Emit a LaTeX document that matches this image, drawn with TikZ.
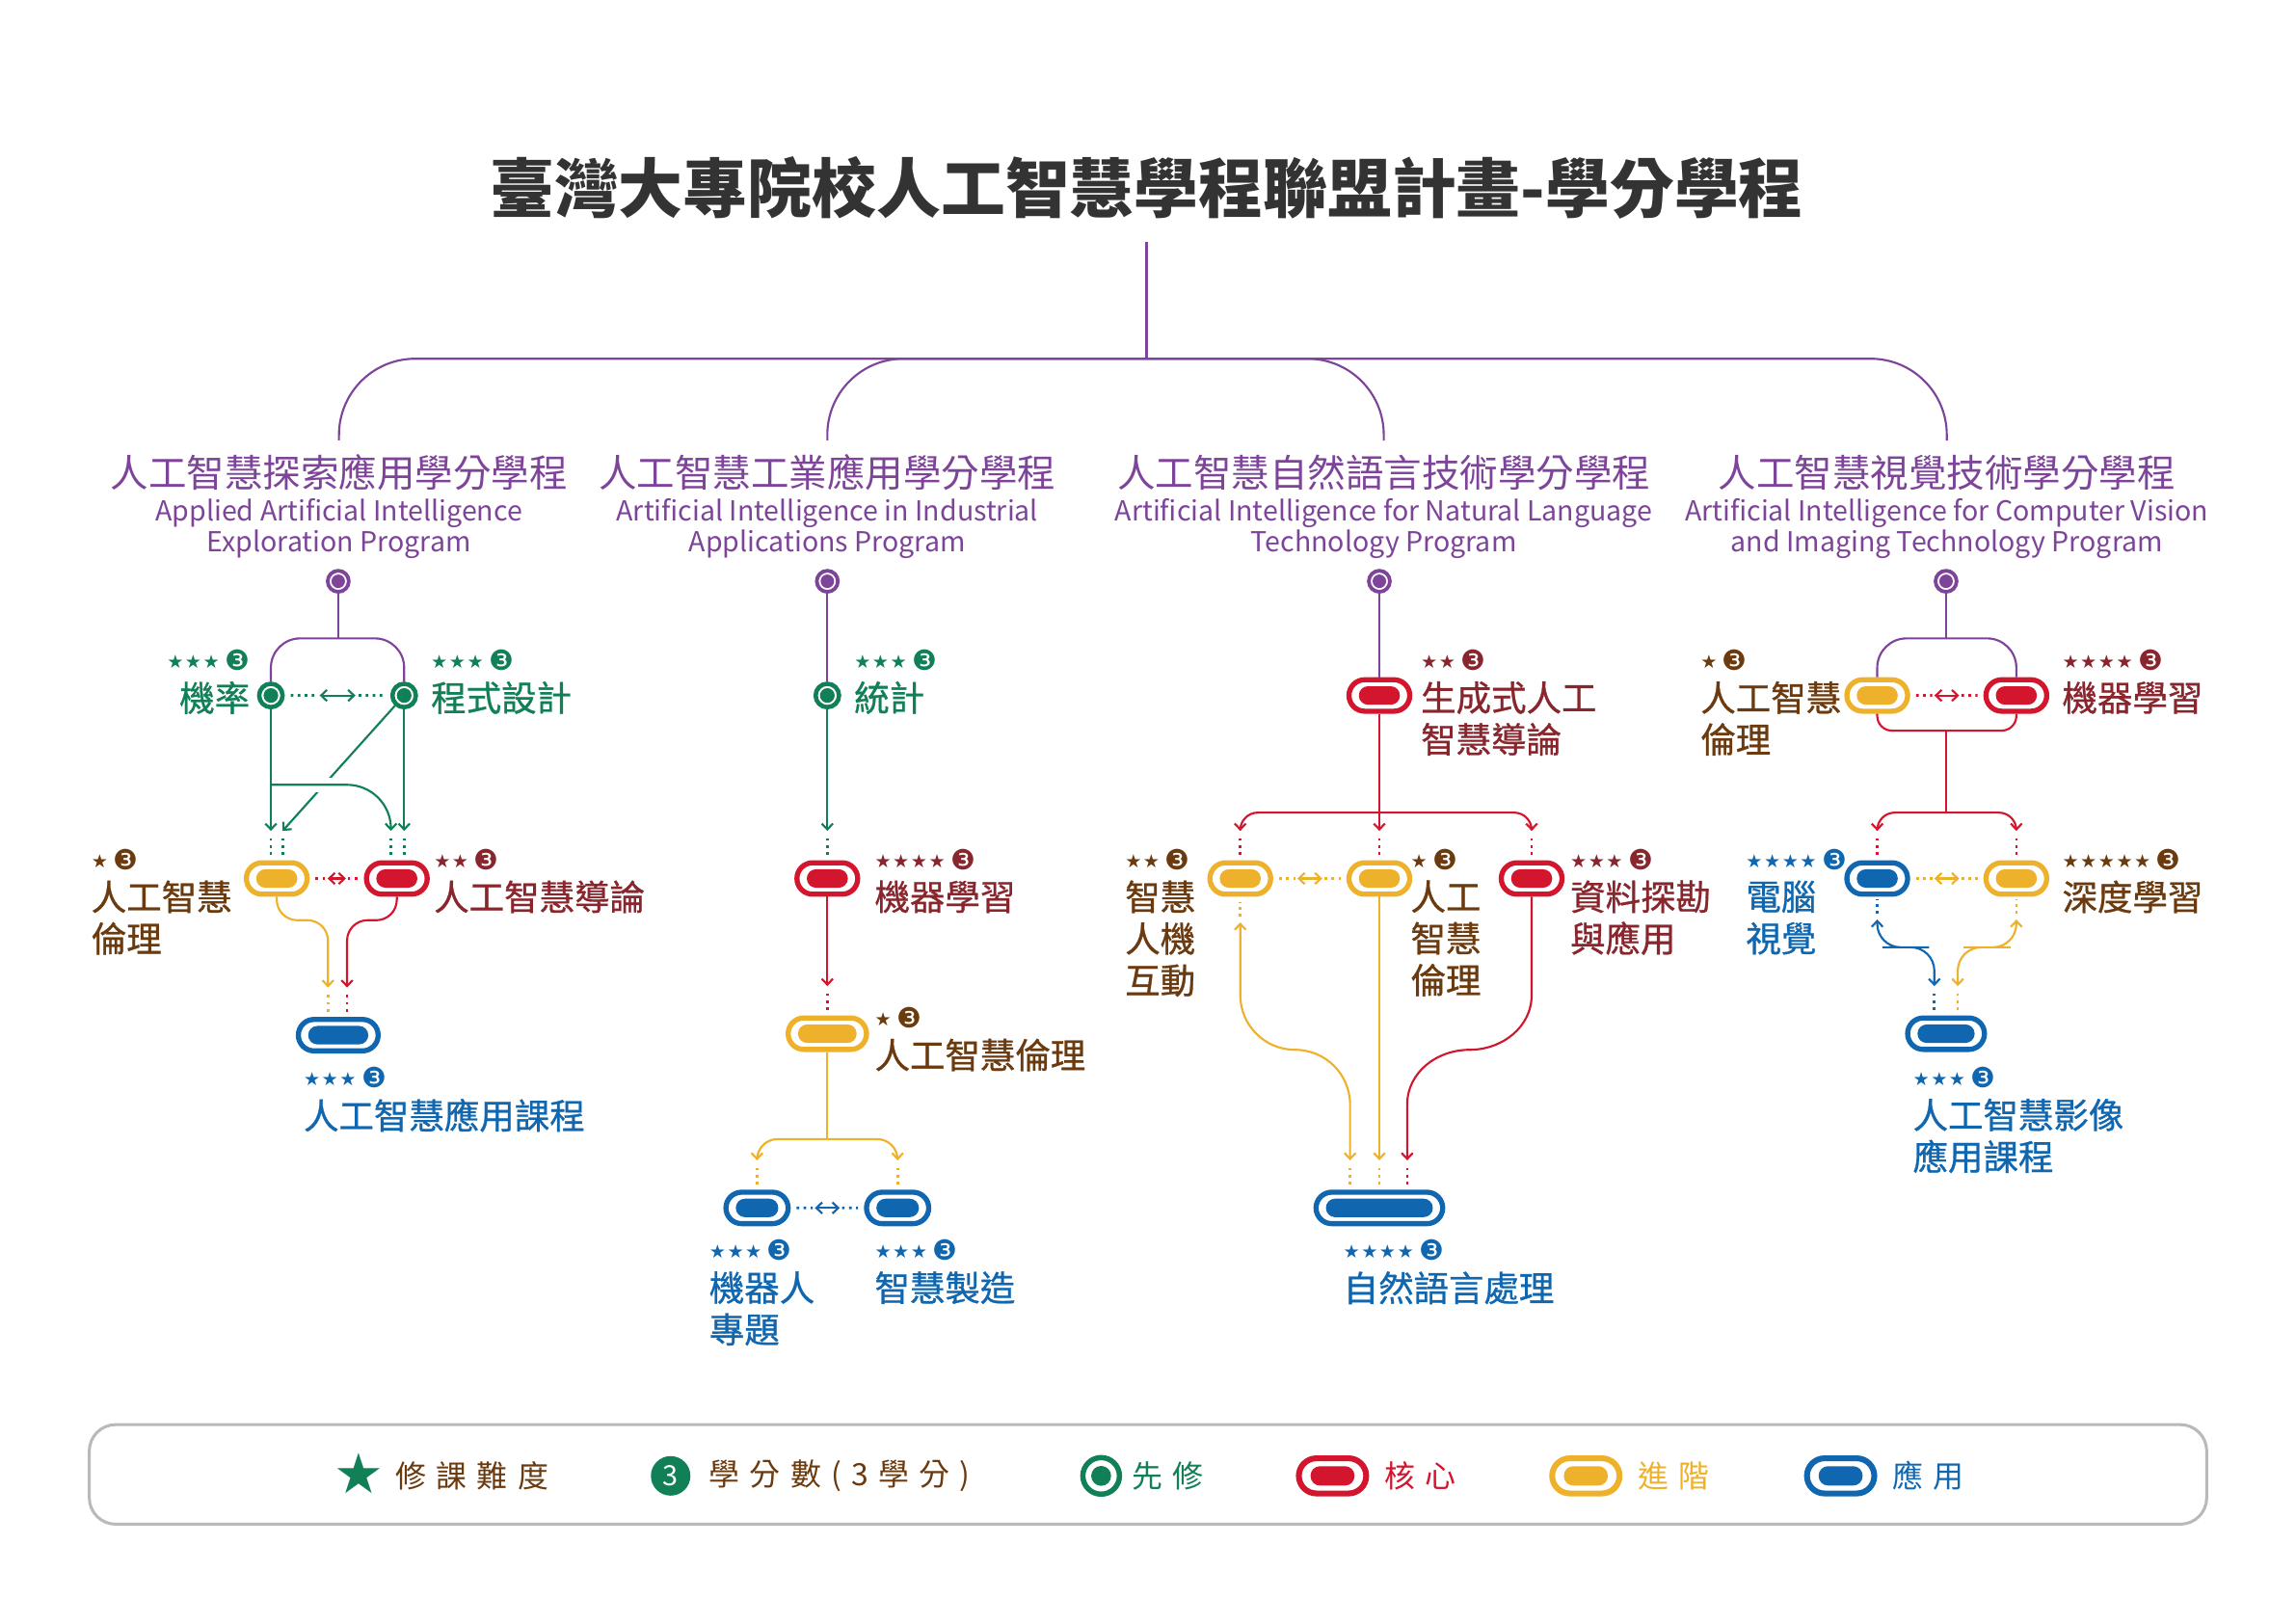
\documentclass[tikz,border=0pt]{standalone}
\usepackage{fontspec}
\setmainfont{Noto Sans CJK TC}
\newfontfamily\lblf{Noto Sans CJK TC}[FakeBold=0.8]
\newfontfamily\symf{DejaVu Sans}
\usetikzlibrary{arrows.meta,calc}
\definecolor{cpur}{RGB}{125,68,153}
\definecolor{cgrn}{RGB}{17,128,86}
\definecolor{cred}{RGB}{211,22,46}
\definecolor{cdred}{RGB}{137,37,45}
\definecolor{cyel}{RGB}{238,177,44}
\definecolor{cbrn}{RGB}{107,58,14}
\definecolor{cblu}{RGB}{16,103,176}
\definecolor{ctitle}{RGB}{51,51,51}
\definecolor{cbox}{RGB}{185,185,185}
\newcommand\rate[1]{\raisebox{0.7pt}{\symf\fontsize{6.3}{6.3}\selectfont\ifcase#1\or★\or★\kern.5pt★\or★\kern.5pt★\kern.5pt★\or★\kern.5pt★\kern.5pt★\kern.5pt★\or★\kern.5pt★\kern.5pt★\kern.5pt★\kern.5pt★\fi}\hspace{1.8pt}{\symf\fontsize{9.5}{9.5}\selectfont❸}}
\newcommand\crs[6]{%
  \node[lbl,text=#4,anchor=north west] (#1) at (#2,#3-11) {#6};
  \node[text=#4,inner sep=0pt,anchor=west] (#1r) at (#2,#3-25) {\rate{#5}};}
\newcommand\crsR[6]{%
  \node[lbl,text=#4,anchor=north east,align=right] (#1) at (#2,#3-11) {#6};
  \node[text=#4,inner sep=0pt,anchor=east] (#1r) at (#2,#3-25) {\rate{#5}};}
\newcommand\hdbl[3]{%
  \draw[dotline,#3] ([xshift=2pt]#1.east) -- ($(#1.east)!.3!(#2.west)$);
  \draw[conn,#3,darr] ($(#1.east)!.33!(#2.west)$) -- ($(#1.east)!.67!(#2.west)$);
  \draw[dotline,#3] ($(#1.east)!.7!(#2.west)$) -- ([xshift=-2pt]#2.west);}
\newcommand\dkd[2]{\draw[dotline,#2] ([yshift=-2.5pt]#1) -- ([yshift=-8.5pt]#1);}
\newcommand\dku[2]{\draw[dotline,#2] ([yshift=2pt]#1) -- ([yshift=7pt]#1);}
\tikzset{
  conn/.style={line width=0.7pt},
  arr/.style={-{Straight Barb[length=2pt,width=3.8pt]}},
  darr/.style={{Straight Barb[length=2pt,width=3.8pt]}-{Straight Barb[length=2pt,width=3.8pt]}},
  dotline/.style={line width=0.9pt, dash pattern=on 0.9pt off 1.5pt},
  pill/.style={draw=#1, line width=1.75pt, fill=white, rounded corners=5.375pt,
    minimum height=10.75pt, minimum width=20.75pt, inner sep=0pt,
    path picture={\fill[#1,rounded corners=3.1pt]
      ([shift={(3.375pt,2.225pt)}]path picture bounding box.south west) rectangle
      ([shift={(-3.375pt,-2.225pt)}]path picture bounding box.north east);}},
  lpill/.style={draw=#1, line width=2pt, fill=white, rounded corners=6pt,
    minimum height=12pt, minimum width=23pt, inner sep=0pt,
    path picture={\fill[#1,rounded corners=3.2pt]
      ([shift={(4pt,2.7pt)}]path picture bounding box.south west) rectangle
      ([shift={(-4pt,-2.7pt)}]path picture bounding box.north east);}},
  tgt/.style={circle, draw=#1, line width=1.5pt, fill=white, minimum size=8pt, inner sep=0pt,
    path picture={\fill[#1] (path picture bounding box.center) circle (2.5pt);}},
  tgtP/.style={circle, draw=cpur, line width=1.25pt, fill=white, minimum size=7.2pt, inner sep=0pt,
    path picture={\fill[cpur] (path picture bounding box.center) circle (2.3pt);}},
  lgtgt/.style={circle, draw=cgrn, line width=1.8pt, fill=white, minimum size=12.5pt, inner sep=0pt,
    path picture={\fill[cgrn] (path picture bounding box.center) circle (3.4pt);}},
  lbl/.style={font=\lblf\fontsize{12}{14.25}\selectfont, inner sep=0pt, align=left},
  ptitle/.style={text=cpur, font=\fontsize{13}{15}\selectfont, inner sep=0pt, outer sep=5pt},
  pengl/.style={text=cpur, font=\fontsize{9.4}{10.5}\selectfont, inner sep=0pt, align=center, anchor=north},
  ltxt/.style={anchor=west, inner sep=0pt, font=\fontsize{10.5}{11}\selectfont\addfontfeature{LetterSpace=32}},
}
\begin{document}
\begin{tikzpicture}[x=0.5pt,y=-0.5pt]
\fill[white] (0,0) rectangle (1568,1109);

% ---------- title and program heads ----------
\node[text=ctitle, font=\fontsize{22}{24}\selectfont\bfseries, inner sep=0pt, outer sep=8pt] (title) at (783,128) {臺灣大專院校人工智慧學程聯盟計畫-學分學程};
\node[ptitle] (pt1) at (231.5,323) {人工智慧探索應用學分學程};
\node[ptitle] (pt2) at (565,323) {人工智慧工業應用學分學程};
\node[ptitle] (pt3) at (945,323) {人工智慧自然語言技術學分學程};
\node[ptitle] (pt4) at (1329.5,323) {人工智慧視覺技術學分學程};
\node[pengl] (pe1) at (231.5,340) {Applied Artificial Intelligence\\Exploration Program};
\node[pengl] (pe2) at (565,340) {Artificial Intelligence in Industrial\\Applications Program};
\node[pengl] (pe3) at (945,340) {Artificial Intelligence for Natural Language\\Technology Program};
\node[pengl] (pe4) at (1329.5,340) {Artificial Intelligence for Computer Vision\\and Imaging Technology Program};
\coordinate (hub) at (783,245);
\draw[cpur,conn] (title.south) -- (hub);
\draw[cpur,conn,rounded corners=26pt] (pt1.north) |- (hub) -| (pt4.north);
\draw[cpur,conn,rounded corners=26pt] (pt2.north) |- (hub);
\draw[cpur,conn,rounded corners=26pt] (pt3.north) |- (hub);

% ---------- column 1 ----------
\node[tgtP] (p1) at (231,397) {};
\node[tgt=cgrn] (g1) at (185,475) {};
\node[tgt=cgrn] (g2) at (276,475) {};
\node[pill=cyel] (y1) at (189,600) {};
\node[pill=cred] (r1) at (271,600) {};
\node[pill=cblu, minimum width=27.25pt] (b1) at (231,707) {};
\coordinate (j1) at (231,436);
\draw[cpur,conn] (p1) -- (j1);
\draw[cpur,conn,rounded corners=10pt] (g1) |- (j1) -| (g2);
\hdbl{g1}{g2}{cgrn}
\coordinate (a11) at (185,567.5);
\coordinate (a12) at (193,567.5);
\coordinate (a13) at (267,567.5);
\coordinate (a14) at (276,567.5);
\coordinate (k1) at (185,536);
\draw[cgrn,conn,arr] (g2) -- (a12);
\draw[white,line width=5pt] (212,536) -- (231,536);
\draw[cgrn,conn,arr,rounded corners=15pt] (k1) -| (a13);
\draw[cgrn,conn,arr] (g1) -- (a11);
\draw[cgrn,conn,arr] (g2) -- (a14);
\dkd{a11}{cgrn}\dkd{a12}{cgrn}\dkd{a13}{cgrn}\dkd{a14}{cgrn}
\hdbl{y1}{r1}{cred}
\coordinate (a15) at (224,674.5);
\coordinate (a16) at (237,674.5);
\draw[cyel,conn,arr,rounded corners=7pt] (y1.south) -- ++(0,16) -| (a15);
\draw[cred,conn,arr,rounded corners=7pt] (r1.south) -- ++(0,16) -| (a16);
\dkd{a15}{cyel}\dkd{a16}{cred}
\crsR{ljl}{171}{476}{cgrn}{3}{機率}
\crs{lcs}{294}{476}{cgrn}{3}{程式設計}
\crs{le1}{62}{612}{cbrn}{1}{人工智慧\\倫理}
\crs{lin1}{296}{612}{cdred}{2}{人工智慧導論}
\crs{lap1}{207}{761}{cblu}{3}{人工智慧應用課程}

% ---------- column 2 ----------
\node[tgtP] (p2) at (565,397) {};
\node[tgt=cgrn] (g3) at (565,475) {};
\node[pill=cred] (r2) at (565,600) {};
\node[pill=cyel, minimum width=26.75pt] (y2) at (565,706) {};
\node[pill=cblu, minimum width=21.25pt] (b2a) at (517,825) {};
\node[pill=cblu, minimum width=21.25pt] (b2b) at (613,825) {};
\draw[cpur,conn] (p2) -- (g3);
\coordinate (a21) at (565,567.5);
\coordinate (a22) at (565,673.5);
\coordinate (j2) at (565,778);
\coordinate (a23) at (517,792.5);
\coordinate (a24) at (613,792.5);
\draw[cgrn,conn,arr] (g3) -- (a21);
\draw[cred,conn,arr] (r2) -- (a22);
\draw[cyel,conn] (y2) -- (j2);
\draw[cyel,conn,arr,rounded corners=7pt] (j2) -| (a23);
\draw[cyel,conn,arr,rounded corners=7pt] (j2) -| (a24);
\dkd{a21}{cgrn}\dkd{a22}{cred}\dkd{a23}{cyel}\dkd{a24}{cyel}
\hdbl{b2a}{b2b}{cblu}
\crs{lst}{583}{476}{cgrn}{3}{統計}
\crs{lml2}{597}{612}{cdred}{4}{機器學習}
\crs{le2}{597}{720}{cbrn}{1}{人工智慧倫理}
\crs{lrb}{484}{879}{cblu}{3}{機器人\\專題}
\crs{lsm}{597}{879}{cblu}{3}{智慧製造}

% ---------- column 3 ----------
\node[tgtP] (p3) at (942,397) {};
\node[pill=cred] (r3) at (942,475) {};
\node[pill=cyel] (y3a) at (847,600) {};
\node[pill=cyel] (y3b) at (942,600) {};
\node[pill=cred] (r3b) at (1046,600) {};
\node[pill=cblu, minimum width=43.25pt] (b3) at (942,825) {};
\draw[cpur,conn] (p3) -- (r3);
\coordinate (j3) at (942,555);
\coordinate (a31) at (847,567.5);
\coordinate (a32) at (942,567.5);
\coordinate (a33) at (1046,567.5);
\draw[cred,conn,arr] (r3) -- (a32);
\draw[cred,conn,arr,rounded corners=6pt] (j3) -| (a31);
\draw[cred,conn,arr,rounded corners=6pt] (j3) -| (a33);
\dkd{a31}{cred}\dkd{a32}{cred}\dkd{a33}{cred}
\hdbl{y3a}{y3b}{cyel}
\coordinate (a37) at (847,630);
\coordinate (k3) at (884.5,717);
\coordinate (k4) at (1003.5,717);
\coordinate (a34) at (922,792.5);
\coordinate (a35) at (942,792.5);
\coordinate (a36) at (961,792.5);
\draw[cyel,conn,darr] (a37) -- (847,679.5) to[out=-90,in=180] (k3) to[out=0,in=90] (922,754.5) -- (a34);
\draw[cyel,conn,arr] (y3b) -- (a35);
\draw[cred,conn,arr] (r3b) -- (1046,679.5) to[out=-90,in=0] (k4) to[out=180,in=90] (961,754.5) -- (a36);
\dku{a37}{cyel}
\dkd{a34}{cyel}\dkd{a35}{cyel}\dkd{a36}{cred}
\crs{lgen}{970}{476}{cdred}{2}{生成式人工\\智慧導論}
\crs{lhci}{768}{612}{cbrn}{2}{智慧\\人機\\互動}
\crs{le3}{963}{612}{cbrn}{1}{人工\\智慧\\倫理}
\crs{ldm}{1072}{612}{cdred}{3}{資料探勘\\與應用}
\crs{lnlp}{917}{879}{cblu}{4}{自然語言處理}

% ---------- column 4 ----------
\node[tgtP] (p4) at (1329,397) {};
\node[pill=cyel] (y4a) at (1282,475) {};
\node[pill=cred] (r4a) at (1377,475) {};
\node[pill=cblu] (b4a) at (1282,600) {};
\node[pill=cyel] (y4b) at (1377,600) {};
\node[pill=cblu, minimum width=26.25pt] (b4) at (1329,706) {};
\coordinate (j4) at (1329,436);
\coordinate (j5) at (1329,499);
\coordinate (j6) at (1329,555);
\draw[cpur,conn] (p4) -- (j4);
\draw[cpur,conn,rounded corners=10pt] (y4a) |- (j4) -| (r4a);
\hdbl{y4a}{r4a}{cred}
\draw[cred,conn,rounded corners=5pt] (y4a) |- (j5) -| (r4a);
\draw[cred,conn] (j5) -- (j6);
\coordinate (a41) at (1282,567.5);
\coordinate (a42) at (1377,567.5);
\draw[cred,conn,arr,rounded corners=6pt] (j6) -| (a41);
\draw[cred,conn,arr,rounded corners=6pt] (j6) -| (a42);
\dkd{a41}{cred}\dkd{a42}{cred}
\hdbl{b4a}{y4b}{cyel}
\coordinate (a43) at (1282,628);
\coordinate (a44) at (1377,628);
\coordinate (k5) at (1301.5,647);
\coordinate (k6) at (1357,647);
\coordinate (a45) at (1321,673.5);
\coordinate (a46) at (1337,673.5);
\draw[cblu,conn,darr,rounded corners=8pt] (a43) |- (k5) -| (a45);
\draw[cyel,conn,darr,rounded corners=8pt] (a44) |- (k6) -| (a46);
\dku{a43}{cblu}\dku{a44}{cyel}
\dkd{a45}{cblu}\dkd{a46}{cyel}
\crs{le4}{1161}{476}{cbrn}{1}{人工智慧\\倫理}
\crs{lml4}{1408}{476}{cdred}{4}{機器學習}
\crs{lcv}{1192}{612}{cblu}{4}{電腦\\視覺}
\crs{ldl}{1408}{612}{cbrn}{5}{深度學習}
\crs{lim}{1306}{761}{cblu}{3}{人工智慧影像\\應用課程}

% ---------- legend ----------
\node[draw=cbox, line width=1pt, rounded corners=9pt, minimum width=723pt, minimum height=34pt, inner sep=0pt] (leg) at (784,1007) {};
\node[text=cgrn, inner sep=0pt, font=\symf\fontsize{19}{19}\selectfont] (lstar) at (245,1006) {★};
\node[ltxt, text=cbrn] (lt1) at (270,1008) {修課難度};
\node[circle, fill=cgrn, minimum size=13.5pt, inner sep=0pt, text=white, font=\fontsize{9.5}{10}\selectfont] (lcr) at (458,1008) {3};
\node[ltxt, text=cbrn] (lt2) at (484,1008) {學分數(3學分)};
\node[lgtgt] (ltg) at (752,1008) {};
\node[ltxt, text=cgrn] (lt3) at (773,1008) {先修};
\node[lpill=cred] (lpr) at (910,1008) {};
\node[ltxt, text=cred] (lt4) at (945,1008) {核心};
\node[lpill=cyel] (lpy) at (1083,1008) {};
\node[ltxt, text=cyel] (lt5) at (1118,1008) {進階};
\node[lpill=cblu] (lpb) at (1257,1008) {};
\node[ltxt, text=cblu] (lt6) at (1292,1008) {應用};
\end{tikzpicture}
\end{document}
